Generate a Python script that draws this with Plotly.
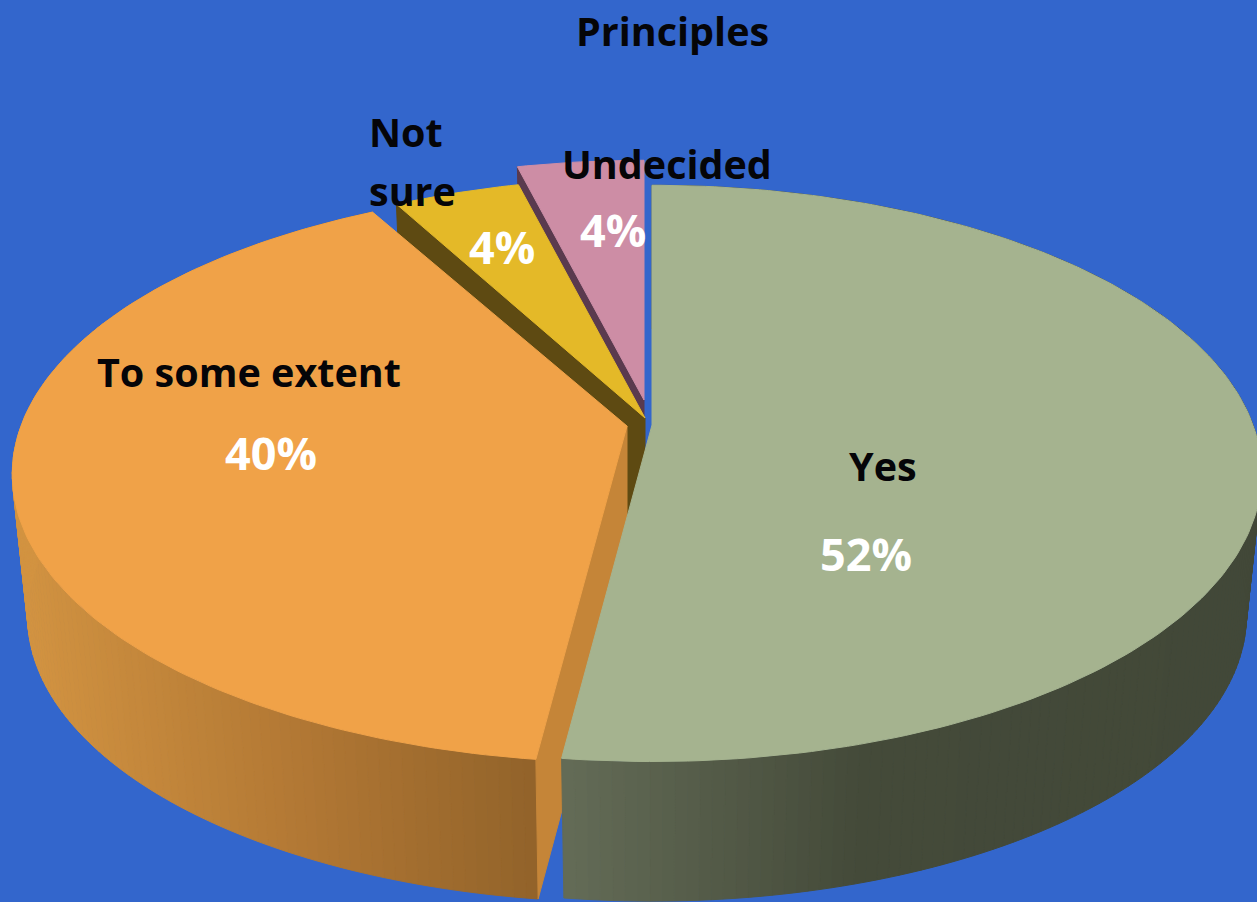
import math
import plotly.graph_objects as go

# Survey shares, clockwise from twelve o'clock
categories = ["Yes", "To some extent", "Not sure", "Undecided"]
shares = [52, 40, 4, 4]
chart_title = "Principles"

# Per-slice styling
top_colors = ["#a5b38f", "#f0a248", "#e4b928", "#cd8da5"]
cut_colors = [None, "#c58538", "#5e4a12", "#5a3a4e"]
centers = [(652, 425), (627, 426), (645, 418), (644, 400)]
widths = [601, 606, 592, 592]

# Rim shading as (x position, colour) stops
rim_stops = {
    0: [(560, (100, 108, 87)), (860, (68, 74, 57)), (1260, (66, 72, 56))],
    1: [(25, (210, 147, 65)), (300, (178, 120, 52)), (535, (146, 99, 42))],
}

# Pie projection: receding plane for the top face, lower plane for the base
PERSPECTIVE = 0.168
TOP_DEPTH = 280
BASE_DEPTH = 278
BASE_WIDTH_RATIO = 0.975
BASE_DROP = 142
ARC_STEP_DEG = 1.0


def project(angle_deg, center, width, base=False):
    a = math.radians(angle_deg)
    x, y = math.sin(a), math.cos(a)
    s = 1 / (1 + PERSPECTIVE * y)
    if base:
        return (center[0] + width * BASE_WIDTH_RATIO * x * s,
                center[1] + BASE_DROP - BASE_DEPTH * y * s)
    return center[0] + width * x * s, center[1] - TOP_DEPTH * y * s


def arc_angles(start, end):
    n = max(2, int((end - start) / ARC_STEP_DEG))
    return [start + (end - start) * i / n for i in range(n + 1)]


def shade(stops, x):
    if x <= stops[0][0]:
        return "rgb(%d,%d,%d)" % stops[0][1]
    for (x0, c0), (x1, c1) in zip(stops, stops[1:]):
        if x <= x1:
            t = (x - x0) / (x1 - x0)
            return "rgb(%d,%d,%d)" % tuple(round(a + (b - a) * t) for a, b in zip(c0, c1))
    return "rgb(%d,%d,%d)" % stops[-1][1]


def polygon(points, color):
    xs = [p[0] for p in points] + [points[0][0]]
    ys = [p[1] for p in points] + [points[0][1]]
    return go.Scatter(x=xs, y=ys, mode="lines", fill="toself", fillcolor=color,
                      line=dict(color=color, width=1), hoverinfo="skip", showlegend=False)


fig = go.Figure()

# Angular span of every slice, derived from its share
total = sum(shares)
spans = []
running = 0
for value in shares:
    spans.append((running / total * 360, (running + value) / total * 360))
    running += value

# Painted back to front: Undecided, Not sure, To some extent, Yes
for idx in [3, 2, 1, 0]:
    start, end = spans[idx]
    c, w = centers[idx], widths[idx]

    # Outer rim, one narrow strip per step so the shading can vary along it
    if idx in rim_stops:
        angles = arc_angles(start, end)
        for a0, a1 in zip(angles, angles[1:]):
            quad = [project(a0, c, w), project(a1, c, w),
                    project(a1, c, w, base=True), project(a0, c, w, base=True)]
            mid_x = sum(p[0] for p in quad) / 4
            fig.add_trace(polygon(quad, shade(rim_stops[idx], mid_x)))

    # Radial cut face seen from the front
    if cut_colors[idx]:
        fig.add_trace(polygon([
            project(start, c, w), (c[0], c[1]),
            (c[0], c[1] + BASE_DROP), project(start, c, w, base=True),
        ], cut_colors[idx]))

    # Top face
    outline = [project(a, c, w) for a in arc_angles(start, end)]
    fig.add_trace(polygon([c] + outline, top_colors[idx]))

FONT = "Open Sans"
BLACK_SIZE = 39.5
WHITE_SIZE = 45
TEXT_DARK = "#050508"


def add_text(text, x, y, size, color, anchor="center"):
    fig.add_annotation(x=x, y=y, text=f"<b>{text}</b>", showarrow=False, xref="x", yref="y",
                       xanchor=anchor, yanchor="middle",
                       font=dict(family=FONT, size=size, color=color))


add_text(chart_title, 672, 31, BLACK_SIZE, TEXT_DARK)

# Label lines and percentage positions for each slice
label_lines = [
    [(categories[0], 883, 466, "center")],
    [(categories[1], 249, 372, "center")],
    [("Not", 367, 132, "left"), ("sure", 367, 191, "left")],
    [(categories[3], 667, 164, "center")],
]
percent_spots = [(866, 553), (271, 452), (502, 246), (613, 229)]

for lines, spot, value in zip(label_lines, percent_spots, shares):
    for text, x, y, anchor in lines:
        add_text(text, x, y, BLACK_SIZE, TEXT_DARK, anchor)
    add_text(f"{value}%", spot[0], spot[1], WHITE_SIZE, "#ffffff")

fig.update_layout(
    width=1257, height=902, margin=dict(l=0, r=0, t=0, b=0),
    paper_bgcolor="#3366cc", plot_bgcolor="#3366cc", showlegend=False,
    xaxis=dict(range=[0, 1257], visible=False, fixedrange=True),
    yaxis=dict(range=[902, 0], visible=False, fixedrange=True),
)

fig.write_html("out.html", config={"displayModeBar": False})
